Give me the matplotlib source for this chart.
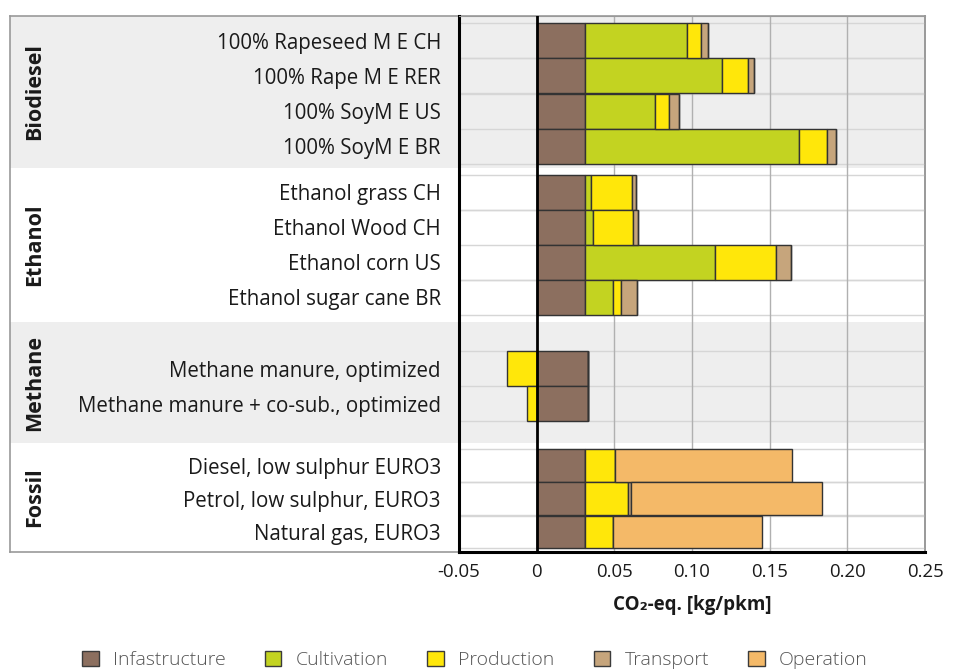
import matplotlib
matplotlib.use("Agg")
import matplotlib.pyplot as plt
from matplotlib.patches import Patch

# data (kg CO2-eq per pkm)
categories = ["100% Rapeseed M E CH", "100% Rape M E RER", "100% SoyM E US", "100% SoyM E BR",
              "Ethanol grass CH", "Ethanol Wood CH", "Ethanol corn US", "Ethanol sugar cane BR",
              "Methane manure, optimized", "Methane manure + co-sub., optimized",
              "Diesel, low sulphur EURO3", "Petrol, low sulphur, EURO3", "Natural gas, EURO3"]
infrastructure = [0.031, 0.031, 0.031, 0.031, 0.031, 0.031, 0.031, 0.031, 0.033, 0.033, 0.031, 0.031, 0.031]
cultivation = [0.066, 0.088, 0.045, 0.138, 0.004, 0.0055, 0.084, 0.018, 0, 0, 0, 0, 0]
production = [0.009, 0.017, 0.0095, 0.018, 0.0265, 0.0255, 0.039, 0.0055, -0.019, -0.0065, 0.0196, 0.028, 0.0184]
transport = [0.004, 0.004, 0.006, 0.006, 0.0025, 0.0035, 0.010, 0.010, 0, 0, 0, 0.002, 0]
operation = [0, 0, 0, 0, 0, 0, 0, 0, 0, 0, 0.114, 0.1225, 0.0956]
groups = ["Biodiesel", "Ethanol", "Methane", "Fossil"]
xticklabels = ["-0.05", "0", "0.05", "0.10", "0.15", "0.20", "0.25"]

components = ["Infastructure", "Cultivation", "Production", "Transport", "Operation"]
series = [infrastructure, cultivation, production, transport, operation]
colors = ["#8c6f5f", "#c3d321", "#ffe70a", "#c6a57c", "#f4b968"]

# layout (row units, 1 unit ~ 35 px, 0 at the top of the plot)
ypos = [0.70, 1.71, 2.72, 3.72, 5.04, 6.03, 7.03, 8.04, 10.07, 11.07, 12.84, 13.79, 14.74]
heights = [1.0] * 10 + [0.94] * 3
ybottom = 15.31
bands = [(0, 4.34), (4.34, 8.74), (8.74, 12.2), (12.2, ybottom)]

plt.rcParams['font.family'] = ['Open Sans', 'DejaVu Sans']

W, H = 975, 672
fig = plt.figure(figsize=(W / 100, H / 100), dpi=100)

# background panel with group bands and group names
bg = fig.add_axes([10 / W, (H - 552) / H, (925 - 10) / W, (552 - 16) / H])
bg.set_xlim(0, 1)
bg.set_ylim(ybottom, 0)
for i, (a, b) in enumerate(bands):
    if i % 2 == 0:
        bg.axhspan(a, b, color="#eeeeee", lw=0)
    bg.text(25 / 915, (a + b) / 2, groups[i], rotation=90, ha="center", va="center",
            fontsize=15.5, fontweight="bold", color="#1a1a1a")
bg.set_xticks([])
bg.set_yticks([])
for s in bg.spines.values():
    s.set_color("#999999")
    s.set_linewidth(1.2)

# main plot
ax = fig.add_axes([459 / W, (H - 552) / H, (925 - 459) / W, (552 - 16) / H])
ax.patch.set_alpha(0)
ax.set_xlim(-0.05, 0.25)
ax.set_ylim(ybottom, 0)

# horizontal lines at row edges
edges = set()
for y, h in zip(ypos, heights):
    edges.add(round(y - h / 2, 2))
    edges.add(round(y + h / 2, 2))
for e in sorted(edges):
    ax.axhline(e, color="#d6d6d6", lw=1, zorder=1)
for xv in [0.05, 0.10, 0.15, 0.20]:
    ax.axvline(xv, color="#b0b0b0", lw=1, zorder=1)

pos_left = [0.0] * len(categories)
neg_left = [0.0] * len(categories)
for vals, col in zip(series, colors):
    lefts = []
    for i, v in enumerate(vals):
        if v >= 0:
            lefts.append(pos_left[i])
            pos_left[i] += v
        else:
            lefts.append(neg_left[i])
            neg_left[i] += v
    ax.barh(ypos, vals, left=lefts, height=heights, color=col, edgecolor="#333333",
            linewidth=1, zorder=2)

ax.axvline(0, color="black", lw=2, zorder=3)

ax.set_yticks(ypos)
ax.set_yticklabels(categories, fontsize=14.8, color="#1a1a1a")
ax.tick_params(axis="y", length=0, pad=13)
ax.set_xticks([-0.05, 0, 0.05, 0.10, 0.15, 0.20, 0.25])
ax.set_xticklabels(xticklabels, fontsize=13.4, color="#1a1a1a")
ax.tick_params(axis="x", length=0, pad=8)
ax.set_xlabel("CO₂-eq. [kg/pkm]", fontsize=13.5, fontweight="bold", labelpad=10, color="#1a1a1a")

ax.spines["left"].set_linewidth(2.2)
ax.spines["bottom"].set_linewidth(2.2)
ax.spines["top"].set_color("#999999")
ax.spines["right"].set_color("#999999")
ax.spines["right"].set_linewidth(1.2)

handles = [Patch(facecolor=c, edgecolor="#3b3b3b", label=l) for c, l in zip(colors, components)]
leg = fig.legend(handles=handles, loc="center", bbox_to_anchor=(475 / W, 1 - 660 / H), ncol=5,
                 frameon=False, fontsize=14, handlelength=0.85, handleheight=0.85,
                 handletextpad=0.75, columnspacing=2.0)
for t in leg.get_texts():
    t.set_color("#555555")
    t.set_fontweight("light")

fig.savefig("out.png", dpi=100)
